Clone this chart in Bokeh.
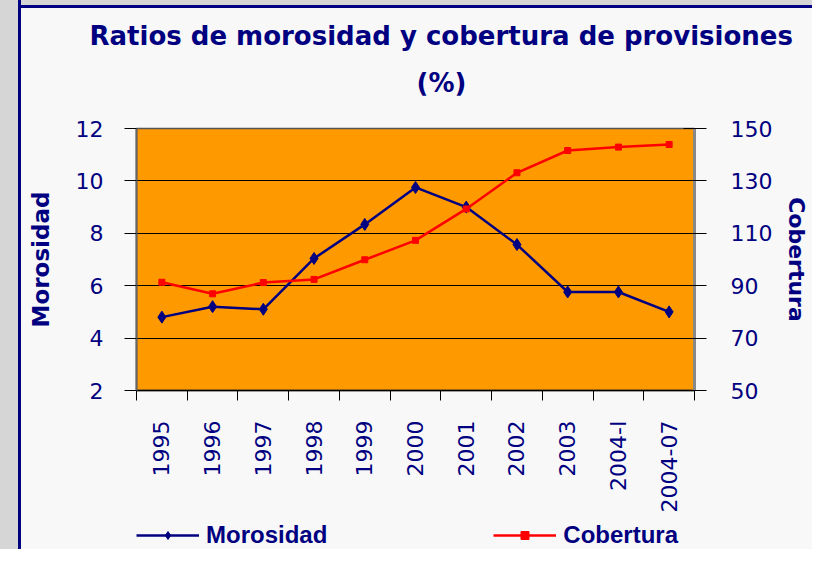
import math
from bokeh.plotting import figure
from bokeh.layouts import column
from bokeh.models import (Range1d, LinearAxis, FixedTicker, Title, Legend, LegendItem,
                          ColumnDataSource)
from bokeh.embed import file_html
from bokeh.resources import INLINE

categories = ["1995", "1996", "1997", "1998", "1999", "2000", "2001", "2002", "2003", "2004-I", "2004-07"]
morosidad = [4.8, 5.2, 5.1, 7.04, 8.34, 9.75, 9.0, 7.57, 5.76, 5.76, 5.0]
cobertura = [91.3, 86.9, 91.2, 92.4, 99.9, 107.3, 119.3, 133.1, 141.6, 142.9, 143.9]
left_ticks = [2, 4, 6, 8, 10, 12]
right_ticks = [50, 70, 90, 110, 130, 150]
series_names = ["Morosidad", "Cobertura"]

NAVY = "#000080"
RED = "#ff0000"
BG = "#f8f8f8"
TEXTURE = "#d6d6d6"
FONT = "DejaVu Sans"

xs = [i + 0.5 for i in range(len(categories))]
src = ColumnDataSource(dict(x=xs, mor=morosidad, cob=cobertura))

W = 812
H_MAIN = 517
H_LEG = 32

left_strip = f"linear-gradient(to right, {TEXTURE} 0px, {TEXTURE} 18px, {NAVY} 18px, {NAVY} 21px, transparent 21px)"
top_strip = f"linear-gradient(to bottom, {TEXTURE} 0px, {TEXTURE} 5px, {NAVY} 5px, {NAVY} 8px, transparent 8px)"

p = figure(width=W, height=H_MAIN, output_backend="svg", toolbar_location=None,
           title=None, x_range=Range1d(0, len(categories)), y_range=Range1d(2, 12),
           x_axis_location=None, y_axis_location=None,
           min_border_left=136, min_border_right=W - 698, min_border_top=128,
           min_border_bottom=H_MAIN - 390)
p.background_fill_color = "#ff9900"
p.border_fill_alpha = 0
p.styles = {"background": f"{left_strip}, {top_strip}, {BG}"}
p.outline_line_color = "#555555"
p.outline_line_width = 1.5

p.extra_y_ranges = {"cob": Range1d(50, 150)}

# left axis
ly = LinearAxis(ticker=FixedTicker(ticks=left_ticks))
ly.axis_line_color = "#666666"
ly.axis_line_width = 2
ly.major_tick_in = 0
ly.major_tick_out = 12
ly.major_tick_line_color = "#000000"
ly.minor_tick_line_color = None
ly.major_label_standoff = 21
ly.major_label_text_font = FONT
ly.major_label_text_font_size = "22px"
ly.major_label_text_color = NAVY
ly.axis_label = series_names[0]
ly.axis_label_text_font = FONT
ly.axis_label_text_font_style = "bold"
ly.axis_label_text_font_size = "23px"
ly.axis_label_text_color = NAVY
ly.axis_label_standoff = 19
p.add_layout(ly, "left")

# right axis
ry = LinearAxis(y_range_name="cob", ticker=FixedTicker(ticks=right_ticks))
ry.axis_line_color = "#888888"
ry.axis_line_width = 3
ry.major_tick_in = 11
ry.major_tick_out = 12
ry.major_tick_line_color = "#000000"
ry.minor_tick_line_color = None
ry.major_label_standoff = 24
ry.major_label_text_font = FONT
ry.major_label_text_font_size = "22px"
ry.major_label_text_color = NAVY
ry.axis_label = series_names[1]
ry.axis_label_text_font = FONT
ry.axis_label_text_font_style = "bold"
ry.axis_label_text_font_size = "22px"
ry.axis_label_text_color = NAVY
ry.axis_label_standoff = 9
p.add_layout(ry, "right")

# bottom axis: labels at category centres, ticks at category boundaries
bx = LinearAxis(ticker=FixedTicker(ticks=xs, minor_ticks=list(range(len(categories) + 1))))
bx.major_label_overrides = {x: c for x, c in zip(xs, categories)}
bx.major_label_orientation = math.pi / 2
bx.axis_line_color = "#000000"
bx.axis_line_width = 1.5
bx.major_tick_line_color = None
bx.minor_tick_line_color = "#000000"
bx.minor_tick_in = 0
bx.minor_tick_out = 10
bx.major_label_standoff = 20
bx.major_label_text_font = FONT
bx.major_label_text_font_size = "22px"
bx.major_label_text_color = NAVY
p.add_layout(bx, "below")

p.xgrid.visible = False
p.ygrid.ticker = FixedTicker(ticks=left_ticks)
p.ygrid.grid_line_color = "#000000"
p.ygrid.grid_line_width = 1

p.line("x", "mor", source=src, line_color=NAVY, line_width=2.5)
p.scatter("x", "mor", source=src, marker="diamond", size=12, fill_color=NAVY, line_color=NAVY)
p.line("x", "cob", source=src, y_range_name="cob", line_color=RED, line_width=2.5)
p.scatter("x", "cob", source=src, y_range_name="cob", marker="square", size=6,
          fill_color=RED, line_color=RED)

p.add_layout(Title(text="(%)", align="left", offset=280, standoff=62,
                   text_font=FONT, text_font_style="bold", text_font_size="26px",
                   text_color=NAVY), "above")
p.add_layout(Title(text="Ratios de morosidad y cobertura de provisiones", align="left", offset=-47,
                   standoff=-32, text_font=FONT, text_font_style="bold", text_font_size="26px",
                   text_color=NAVY), "above")

# legend strip below the chart (its frame lines up with the chart frame)
q = figure(width=W, height=H_LEG, output_backend="svg", toolbar_location=None, title=None,
           x_axis_location=None, y_axis_location=None,
           min_border_left=136, min_border_right=W - 698, min_border_top=0, min_border_bottom=0,
           x_range=Range1d(-2, -1), y_range=Range1d(-2, -1))
q.background_fill_alpha = 0
q.border_fill_alpha = 0
q.styles = {"background": f"{left_strip}, {BG}"}
q.outline_line_color = None
q.grid.visible = False
g1 = q.line("x", "mor", source=src, line_color=NAVY, line_width=2.5)
g1m = q.scatter("x", "mor", source=src, marker="diamond", size=8, fill_color=NAVY, line_color=NAVY)
g2 = q.line("x", "cob", source=src, line_color=RED, line_width=2.5)
g2m = q.scatter("x", "cob", source=src, marker="square", size=5, fill_color=RED, line_color=RED)
legend = Legend(items=[LegendItem(label=series_names[0], renderers=[g1, g1m]),
                       LegendItem(label=series_names[1], renderers=[g2, g2m])],
                orientation="horizontal", location=(0, 0), spacing=166,
                glyph_width=63, glyph_height=20, label_height=20, label_standoff=7,
                padding=0, margin=0,
                label_text_font="Liberation Sans", label_text_font_style="bold",
                label_text_font_size="24px", label_text_color=NAVY,
                background_fill_alpha=0, border_line_color=None)
q.add_layout(legend, "center")

layout = column(p, q, spacing=0)
open("out.html", "w").write(file_html(layout, INLINE))
